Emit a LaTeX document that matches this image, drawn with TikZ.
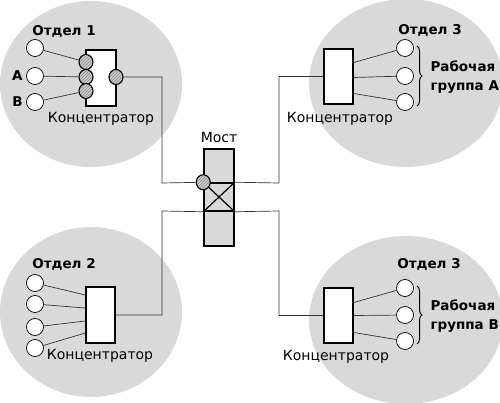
\documentclass[tikz,border=0pt]{standalone}
\usepackage{fontspec}
\setmainfont{DejaVu Sans}
\usetikzlibrary{positioning, fit, calc, shapes.geometric, patterns, decorations.pathreplacing}

\begin{document}
\begin{tikzpicture}[-,auto,x=1pt,y=-1pt,node distance=2pt,font=\fontsize{14}{16}\selectfont]
        \tikzstyle{hub}=[draw, line width=1.5pt, fill=white, minimum width=29pt, minimum height=56pt, inner sep=0pt]
        \tikzstyle{pc}=[draw, circle, fill=white, minimum size=17pt, inner sep=0pt, line width=0.7pt]
        \tikzstyle{port}=[draw, ellipse, line width=1.1pt, minimum width=14pt, minimum height=15pt, inner sep=0pt, preaction={fill=gray!40}, pattern=north east lines, pattern color=gray!90]
        \tikzstyle{wire}=[line width=0.7pt, draw=black!80]
        \tikzstyle{title}=[font=\fontsize{13.5}{19}\selectfont\bfseries]
        \tikzstyle{grp}=[decorate, decoration={brace, amplitude=5pt}, line width=1pt]
        \useasboundingbox (0,0) rectangle (500,403);
        % departments
        \fill[gray!30] (91,84) ellipse [x radius=91pt, y radius=83pt];
        \fill[gray!30] (406,83) ellipse [x radius=97pt, y radius=84pt];
        \fill[gray!30] (91,312) ellipse [x radius=91pt, y radius=85pt];
        \fill[gray!30] (406,320) ellipse [x radius=97pt, y radius=84pt];
        % bridge
        \node[draw, line width=1.5pt, fill=gray!30, minimum width=30pt, minimum height=97pt, inner sep=0pt] (bridge) at (219,197.5) {};
        \node[draw, line width=1.5pt, minimum width=30pt, minimum height=28pt, inner sep=0pt] (cross) at (219,197) {};
        \draw[line width=1.2pt] (cross.north west) -- (cross.south east) (cross.north east) -- (cross.south west);
        \node[port] (bport) at (bridge.west |- cross.north) {};
        \node (bname) [above=of bridge] {Мост};
        % department 1
        \node[hub, minimum width=30pt] (hub1) at (101,78) {};
        \node[port] (p1a) at (86,62) {};
        \node[port] (p1b) at (86,77) {};
        \node[port] (p1c) at (86,91) {};
        \node[port] (p1d) at (116,77) {};
        \node[pc] (c1a) at (35,48) {};
        \node[pc] (c1b) at (35,76) {};
        \node[pc] (c1c) at (35,102) {};
        \node[title] (t1) at (64,31) {Отдел 1};
        \node[title] (la) [left=0pt of c1b] {A};
        \node[title] (lb) [left=0pt of c1c] {B};
        \node (h1) at (101,119) {Концентратор};
        \draw[wire] (c1a) -- (p1a)   (c1b) -- (p1b)   (c1c) -- (p1c);
        % department 2
        \node[hub] (hub2) at (100.5,315) {};
        \node[pc] (c2a) at (35,283) {};
        \node[pc] (c2b) at (35,304) {};
        \node[pc] (c2c) at (35,327) {};
        \node[pc] (c2d) at (35,348) {};
        \node[title] (t2) at (64,264) {Отдел 2};
        \node (h2) at (100,356) {Концентратор};
        \draw[wire] (c2a) -- ($(hub2.west)+(0,-20)$)   (c2b) -- ($(hub2.west)+(0,-7)$)
                    (c2c) -- ($(hub2.west)+(0,6)$)     (c2d) -- ($(hub2.west)+(0,18)$);
        % department 3, group A
        \node[hub, minimum height=55pt] (hub3) at (338.5,76.5) {};
        \node[pc] (c3a) at (405,48) {};
        \node[pc] (c3b) at (405,76) {};
        \node[pc] (c3c) at (405,102) {};
        \node[title] (t3) at (430,30) {Отдел 3};
        \node[title, align=left, anchor=west] (g3) at (427,77.5) {Рабочая\\группа А};
        \node (h3) at (340,119) {Концентратор};
        \draw[wire] ($(hub3.east)+(0,-14)$) -- (c3a)   ($(hub3.east)+(0,1)$) -- (c3b)   ($(hub3.east)+(0,17)$) -- (c3c);
        \draw[grp] (417,46) -- (417,106);
        % department 3, group B
        \node[hub, minimum height=55pt] (hub4) at (338.5,315.5) {};
        \node[pc] (c4a) at (405,288) {};
        \node[pc] (c4b) at (405,315) {};
        \node[pc] (c4c) at (405,341) {};
        \node[title] (t4) at (429,264) {Отдел 3};
        \node[title, align=left, anchor=west] (g4) at (427,316.5) {Рабочая\\группа В};
        \node (h4) at (336,357) {Концентратор};
        \draw[wire] ($(hub4.east)+(0,-13)$) -- (c4a)   ($(hub4.east)+(0,0)$) -- (c4b)   ($(hub4.east)+(0,17)$) -- (c4c);
        \draw[grp] (417,286) -- (417,344);
        % links to the bridge
        \coordinate (j1) at (162,183);
        \coordinate (j2) at (279,183);
        \coordinate (j3) at (162,211);
        \coordinate (j4) at (279,211);
        \draw[wire] (p1d) -| (j1) -- (bport);
        \draw[wire] (cross.north east) -- (j2) |- (hub3);
        \draw[wire] (cross.south west) -- (j3) |- (hub2);
        \draw[wire] (cross.south east) -- (j4) |- (hub4);
    \end{tikzpicture}
\end{document}
